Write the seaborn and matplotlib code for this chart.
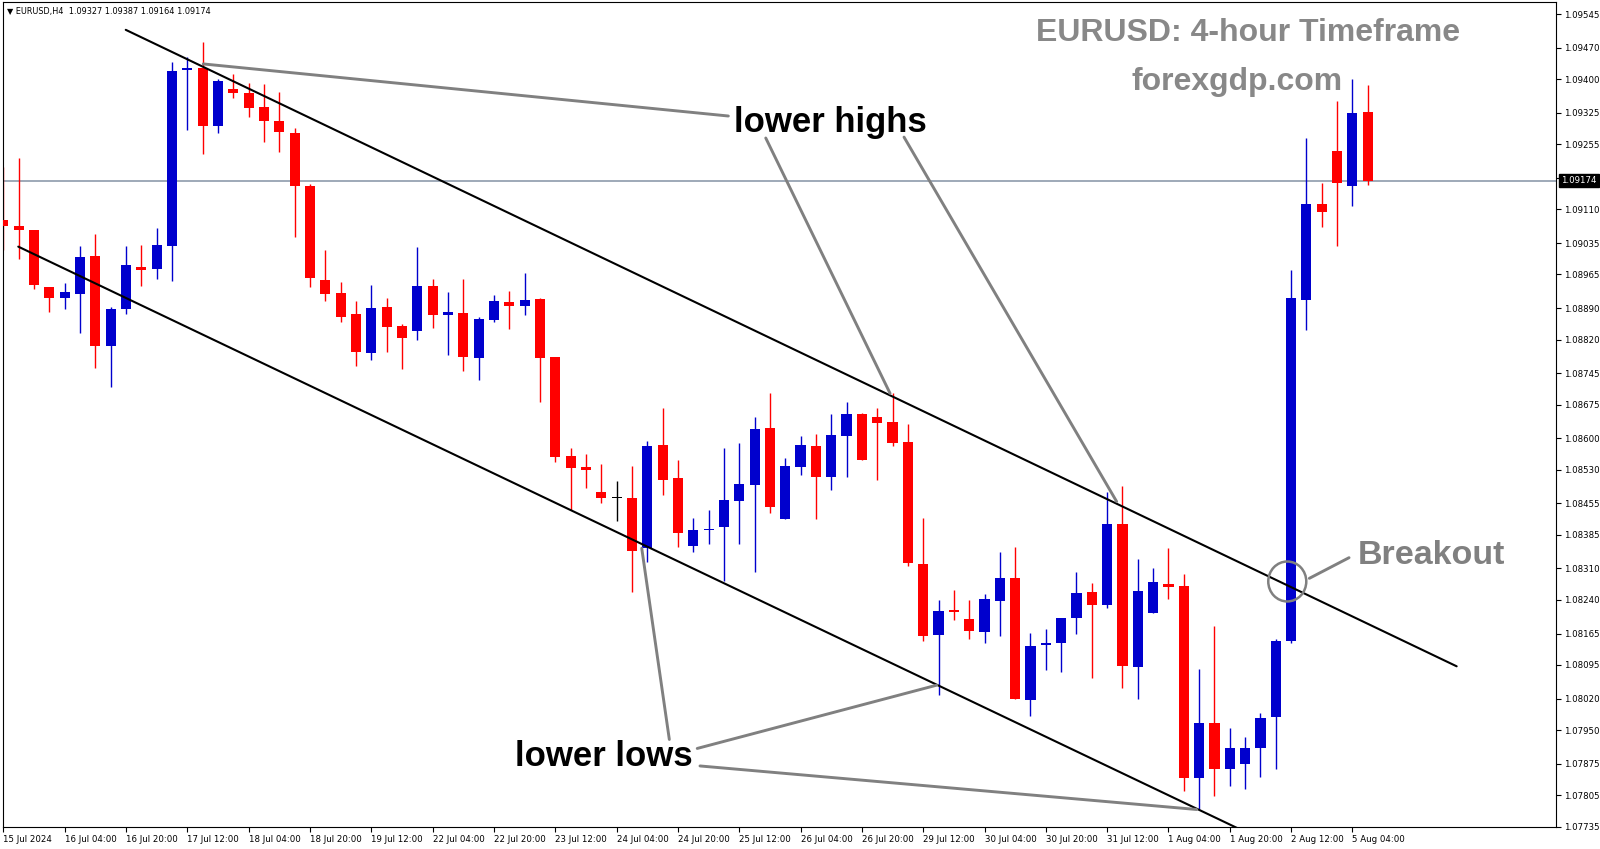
import numpy as np
import pandas as pd
import matplotlib
matplotlib.use("Agg")
import matplotlib.pyplot as plt
import seaborn as sns
from matplotlib.patches import Ellipse
import matplotlib.transforms as mtransforms

# ---------------- data (EURUSD H4) ----------------
opens = [1.09087, 1.09074, 1.09064, 1.08936, 1.08913, 1.08922, 1.09006, 1.08806, 1.08887, 1.08981,
         1.08977, 1.09029, 1.09420, 1.09425, 1.09296, 1.09379, 1.09370, 1.09337, 1.09307, 1.09281,
         1.09162, 1.08953, 1.08923, 1.08876, 1.08789, 1.08893, 1.08850, 1.08838, 1.08939, 1.08875,
         1.08880, 1.08779, 1.08864, 1.08903, 1.08895, 1.08910, 1.08780, 1.08560, 1.08537, 1.08481,
         1.08468, 1.08468, 1.08355, 1.08585, 1.08511, 1.08361, 1.08396, 1.08402, 1.08461, 1.08496,
         1.08622, 1.08420, 1.08537, 1.08583, 1.08514, 1.08606, 1.08654, 1.08647, 1.08636, 1.08592,
         1.08321, 1.08162, 1.08217, 1.08197, 1.08169, 1.08237, 1.08288, 1.08017, 1.08140, 1.08143,
         1.08199, 1.08257, 1.08228, 1.08410, 1.08091, 1.08211, 1.08275, 1.08271, 1.07844, 1.07965,
         1.07863, 1.07875, 1.07910, 1.07978, 1.08148, 1.08907, 1.09122, 1.09240, 1.09163, 1.09327]
highs = [1.09205, 1.09225, 1.09064, 1.08936, 1.08947, 1.09029, 1.09055, 1.08893, 1.09029, 1.09031,
         1.09069, 1.09439, 1.09449, 1.09482, 1.09401, 1.09412, 1.09391, 1.09390, 1.09371, 1.09292,
         1.09167, 1.09020, 1.08948, 1.08906, 1.08942, 1.08913, 1.08855, 1.09027, 1.08954, 1.08926,
         1.08954, 1.08870, 1.08919, 1.08929, 1.08968, 1.08913, 1.08782, 1.08579, 1.08566, 1.08543,
         1.08505, 1.08538, 1.08595, 1.08667, 1.08552, 1.08422, 1.08440, 1.08578, 1.08590, 1.08647,
         1.08700, 1.08555, 1.08605, 1.08610, 1.08654, 1.08681, 1.08657, 1.08667, 1.08700, 1.08631,
         1.08422, 1.08240, 1.08262, 1.08240, 1.08253, 1.08347, 1.08357, 1.08167, 1.08176, 1.08200,
         1.08303, 1.08277, 1.08481, 1.08494, 1.08330, 1.08310, 1.08355, 1.08297, 1.08085, 1.08182,
         1.07954, 1.07935, 1.07989, 1.08152, 1.08974, 1.09268, 1.09168, 1.09352, 1.09401, 1.09387]
lows = [1.09020, 1.08999, 1.08932, 1.08882, 1.08887, 1.08834, 1.08756, 1.08715, 1.08876, 1.08940,
        1.08955, 1.08951, 1.09287, 1.09234, 1.09281, 1.09358, 1.09315, 1.09261, 1.09237, 1.09049,
        1.08937, 1.08906, 1.08859, 1.08762, 1.08774, 1.08793, 1.08755, 1.08819, 1.08846, 1.08786,
        1.08751, 1.08729, 1.08858, 1.08843, 1.08874, 1.08680, 1.08548, 1.08440, 1.08490, 1.08456,
        1.08416, 1.08257, 1.08324, 1.08474, 1.08358, 1.08347, 1.08364, 1.08282, 1.08364, 1.08301,
        1.08433, 1.08420, 1.08518, 1.08420, 1.08485, 1.08514, 1.08551, 1.08508, 1.08583, 1.08316,
        1.08149, 1.08028, 1.08195, 1.08153, 1.08143, 1.08160, 1.08019, 1.07982, 1.08083, 1.08080,
        1.08165, 1.08065, 1.08221, 1.08043, 1.08020, 1.08211, 1.08241, 1.07814, 1.07775, 1.07803,
        1.07826, 1.07818, 1.07846, 1.07863, 1.08145, 1.08841, 1.09071, 1.09028, 1.09117, 1.09164]
closes = [1.09072, 1.09063, 1.08942, 1.08913, 1.08925, 1.09004, 1.08806, 1.08888, 1.08986, 1.08974,
          1.09031, 1.09419, 1.09425, 1.09296, 1.09396, 1.09370, 1.09335, 1.09307, 1.09283, 1.09161,
          1.08958, 1.08921, 1.08871, 1.08792, 1.08891, 1.08849, 1.08824, 1.08939, 1.08875, 1.08882,
          1.08781, 1.08865, 1.08906, 1.08895, 1.08908, 1.08779, 1.08559, 1.08533, 1.08529, 1.08467,
          1.08468, 1.08349, 1.08583, 1.08508, 1.08390, 1.08396, 1.08399, 1.08462, 1.08498, 1.08620,
          1.08447, 1.08538, 1.08585, 1.08514, 1.08607, 1.08654, 1.08552, 1.08634, 1.08589, 1.08323,
          1.08160, 1.08215, 1.08212, 1.08171, 1.08242, 1.08288, 1.08019, 1.08138, 1.08143, 1.08200,
          1.08256, 1.08228, 1.08409, 1.08092, 1.08260, 1.08279, 1.08269, 1.07844, 1.07965, 1.07863,
          1.07911, 1.07909, 1.07976, 1.08148, 1.08912, 1.09122, 1.09104, 1.09168, 1.09325, 1.09174]

time_labels = ["15 Jul 2024", "16 Jul 04:00", "16 Jul 20:00", "17 Jul 12:00", "18 Jul 04:00",
               "18 Jul 20:00", "19 Jul 12:00", "22 Jul 04:00", "22 Jul 20:00", "23 Jul 12:00",
               "24 Jul 04:00", "24 Jul 20:00", "25 Jul 12:00", "26 Jul 04:00", "26 Jul 20:00",
               "29 Jul 12:00", "30 Jul 04:00", "30 Jul 20:00", "31 Jul 12:00", "1 Aug 04:00",
               "1 Aug 20:00", "2 Aug 12:00", "5 Aug 04:00"]
label_every = 4

price_ticks = [1.09545, 1.09470, 1.09400, 1.09325, 1.09255, 1.09180, 1.09110, 1.09035, 1.08965,
               1.08890, 1.08820, 1.08745, 1.08675, 1.08600, 1.08530, 1.08455, 1.08385, 1.08310,
               1.08240, 1.08165, 1.08095, 1.08020, 1.07950, 1.07875, 1.07805, 1.07735]
current_price = 1.09174

# drawn trend lines / annotation anchors (bar index, price)
upper_channel = ([7.98, 94.80], [1.09510, 1.08092])
lower_channel = ([0.97, 82.0], [1.09027, 1.07707])
lh_lines = [([13.04, 47.29], [1.09434, 1.09318]),
            ([49.73, 57.84], [1.09269, 1.08700]),
            ([58.75, 72.62], [1.09271, 1.08459])]
ll_lines = [([41.64, 43.44], [1.08355, 1.07929]),
            ([45.26, 60.88], [1.07909, 1.08050]),
            ([45.44, 77.84], [1.07870, 1.07773])]
breakout_line = ([85.19, 87.78], [1.08288, 1.08334])
breakout_circle = (83.75, 1.08281)

# ---------------- figure ----------------
sns.set_theme(style="white")
plt.rcParams["font.family"] = ["DejaVu Sans"]

df = pd.DataFrame({"open": opens, "high": highs, "low": lows, "close": closes})
df["idx"] = np.arange(len(df))
BLUE, RED = "#0000CD", "#FF0000"
df["color"] = np.where(df["close"] > df["open"], BLUE,
                       np.where(df["close"] < df["open"], RED, "#000000"))

fig = plt.figure(figsize=(16, 8.49), dpi=100)
ax = fig.add_axes([2.7 / 1600, 22 / 849, 1553.3 / 1600, 825 / 849])

# wicks
ax.vlines(df["idx"], df["low"], df["high"], colors=df["color"], lw=1.0, zorder=2)
# bodies
body_h = np.maximum((df["close"] - df["open"]).abs(), 0.00002)
ax.bar(df["idx"], body_h, bottom=np.minimum(df["open"], df["close"]), width=0.66,
       color=df["color"], lw=0, zorder=3)

# current price line
ax.axhline(current_price, color="#8e9bab", lw=1.2, zorder=1)

# channel lines
for xs, ys in (upper_channel, lower_channel):
    sns.lineplot(x=xs, y=ys, ax=ax, color="black", lw=1.5, sort=False, zorder=4)

GREY = "#808080"
for xs, ys in lh_lines + ll_lines + [breakout_line]:
    sns.lineplot(x=xs, y=ys, ax=ax, color=GREY, lw=2.1, sort=False, zorder=5)

ax.add_patch(Ellipse(breakout_circle, width=2.48, height=0.00089, fill=False,
                     ec=GREY, lw=1.8, zorder=6))

bold_font = dict(family=["Liberation Sans", "DejaVu Sans"], weight="bold")
ax.text(53.97, 1.09283, "lower highs", ha="center", va="baseline", fontsize=25,
        color="black", zorder=7, **bold_font)
ax.text(39.16, 1.07870, "lower lows", ha="center", va="baseline", fontsize=25,
        color="black", zorder=7, **bold_font)
ax.text(93.17, 1.08319, "Breakout", ha="center", va="baseline", fontsize=24.5,
        color=GREY, zorder=7, **bold_font)
ax.text(81.16, 1.09484, "EURUSD: 4-hour Timeframe", ha="center", va="baseline", fontsize=23,
        color="#888888", zorder=7, **bold_font)
ax.text(80.5, 1.09377, "forexgdp.com", ha="center", va="baseline", fontsize=23,
        color="#888888", zorder=7, **bold_font)

# header
ax.text(0.0027, 0.9935, "\u25BC EURUSD,H4  1.09327 1.09387 1.09164 1.09174",
        transform=ax.transAxes, ha="left", va="top", fontsize=5.9, color="black", zorder=7)

# axes limits / ticks
ax.set_xlim(-0.046, 101.28)
ax.set_ylim(1.07734, 1.09572)

xt = np.arange(0, len(time_labels) * label_every, label_every)
ax.set_xticks(xt)
ax.set_xticklabels(time_labels)
for lab in ax.get_xticklabels():
    lab.set_horizontalalignment("left")
ax.tick_params(axis="x", direction="out", length=3.5, width=0.8, color="black",
               labelsize=6.2, pad=2, bottom=True, labelcolor="black")

ax.yaxis.tick_right()
ax.set_yticks(price_ticks)
ax.set_yticklabels([f"{p:.5f}" for p in price_ticks])
ax.tick_params(axis="y", direction="out", length=3.5, width=0.8, color="black",
               labelsize=6.2, pad=2, right=True, left=False, labelcolor="black")

for sp in ax.spines.values():
    sp.set_color("black")
    sp.set_linewidth(0.8)
    sp.set_visible(True)
ax.set_xlabel("")
ax.set_ylabel("")
ax.grid(False)

# current price box on the price scale
trans = mtransforms.blended_transform_factory(ax.transAxes, ax.transData)
ax.text(1.0033, current_price, f"{current_price:.5f}", transform=trans, ha="left",
        va="center", fontsize=6.2, color="white", clip_on=False, zorder=10,
        bbox=dict(boxstyle="square,pad=0.22", fc="black", ec="black"))

fig.savefig("out.png", dpi=100)
